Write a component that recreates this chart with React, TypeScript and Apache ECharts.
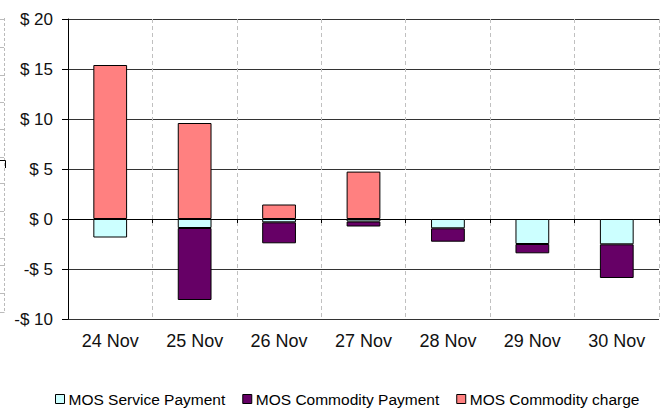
import React, { useEffect, useRef } from "react";
import * as echarts from "echarts";

const categories = ["24 Nov", "25 Nov", "26 Nov", "27 Nov", "28 Nov", "29 Nov", "30 Nov"];
const servicePayment = [-1.85, -0.9, -0.33, -0.25, -0.93, -2.5, -2.53];
const commodityPayment: (number | string)[] = ["-", -7.2, -2.1, -0.5, -1.34, -0.93, -3.37];
const commodityCharge: (number | string)[] = [15.4, 9.6, 1.45, 4.74, "-", "-", "-"];
const seriesNames = ["MOS Service Payment", "MOS Commodity Payment", "MOS Commodity charge"];
const seriesColors = ["#CCFFFF", "#660066", "#FF8080"];
const leftArtifactTicks = [19, 47, 75, 102, 129, 157, 183, 211, 238, 265, 293];

const FONT = "'Liberation Sans', Arial, sans-serif";

export default function App() {
  const ref = useRef<HTMLDivElement>(null);
  useEffect(() => {
    if (!ref.current) return;
    const chart = echarts.init(ref.current, undefined, { renderer: "svg" });
    const datasets = [servicePayment, commodityPayment, commodityCharge];
    const graphic: any[] = [
      {
        type: "line",
        shape: { x1: 4.5, y1: 18, x2: 4.5, y2: 312 },
        style: { stroke: "#bbbbbb", lineWidth: 1, lineDash: [3, 2] },
        silent: true,
      },
      {
        type: "line",
        shape: { x1: 0, y1: 312.5, x2: 4.5, y2: 312.5 },
        style: { stroke: "#bbbbbb", lineWidth: 1 },
        silent: true,
      },
      {
        type: "polyline",
        shape: { points: [[0, 160.5], [5.5, 160.5], [5.5, 168]] },
        style: { stroke: "#000", lineWidth: 1, fill: null },
        silent: true,
      },
      ...leftArtifactTicks.map((y) => ({
        type: "line",
        shape: { x1: 0, y1: y + 0.5, x2: 4, y2: y + 0.5 },
        style: { stroke: "#bbbbbb", lineWidth: 1 },
        silent: true,
      })),
    ];
    chart.setOption({
      animation: false,
      backgroundColor: "#ffffff",
      textStyle: { fontFamily: FONT },
      grid: { left: 68, right: 1, top: 19, bottom: 89, containLabel: false },
      graphic,
      legend: {
        data: seriesNames.map((n, i) => ({ name: n, itemStyle: { color: seriesColors[i], borderColor: "#000", borderWidth: 1 } })),
        left: 50,
        top: 386,
        itemWidth: 9,
        itemHeight: 9,
        itemGap: 17,
        icon: "rect",
        textStyle: { fontFamily: FONT, fontSize: 15.5, color: "#000", padding: [0, 0, 0, -1] },
      },
      xAxis: [
        {
          type: "category",
          data: categories,
          position: "bottom",
          axisLine: { show: true, onZero: true, lineStyle: { color: "#000", width: 1 } },
          axisTick: { show: true, length: 4, lineStyle: { color: "#000" } },
          axisLabel: { show: false },
          splitLine: { show: true, lineStyle: { color: "#c0c0c0", type: [4, 3], width: 1 } },
        },
        {
          type: "category",
          data: categories,
          position: "bottom",
          axisLine: { show: false, onZero: false },
          axisTick: { show: false },
          axisLabel: { show: true, fontFamily: FONT, fontSize: 18, color: "#111", margin: 13 },
          splitLine: { show: false },
        },
      ],
      yAxis: {
        type: "value",
        min: -10,
        max: 20,
        interval: 5,
        axisLine: { show: true, lineStyle: { color: "#000", width: 1 } },
        axisTick: { show: true, length: 6, lineStyle: { color: "#000" } },
        axisLabel: {
          fontFamily: FONT,
          fontSize: 17,
          color: "#111",
          margin: 15,
          formatter: (v: number) => (v < 0 ? "-$ " + Math.abs(v) : "$ " + v),
        },
        splitLine: { show: true, lineStyle: { color: "#333", width: 1 } },
      },
      series: seriesNames.map((name, i) => ({
        name,
        type: "bar",
        stack: "total",
        xAxisIndex: 0,
        barWidth: "40%",
        data: datasets[i],
        itemStyle: { color: seriesColors[i], borderColor: "#000", borderWidth: 1 },
      })),
    });
    return () => chart.dispose();
  }, []);
  return (
    <div
      ref={ref}
      style={{ position: "fixed", left: 0, top: 0, width: 660, height: 408, background: "#fff" }}
    />
  );
}
